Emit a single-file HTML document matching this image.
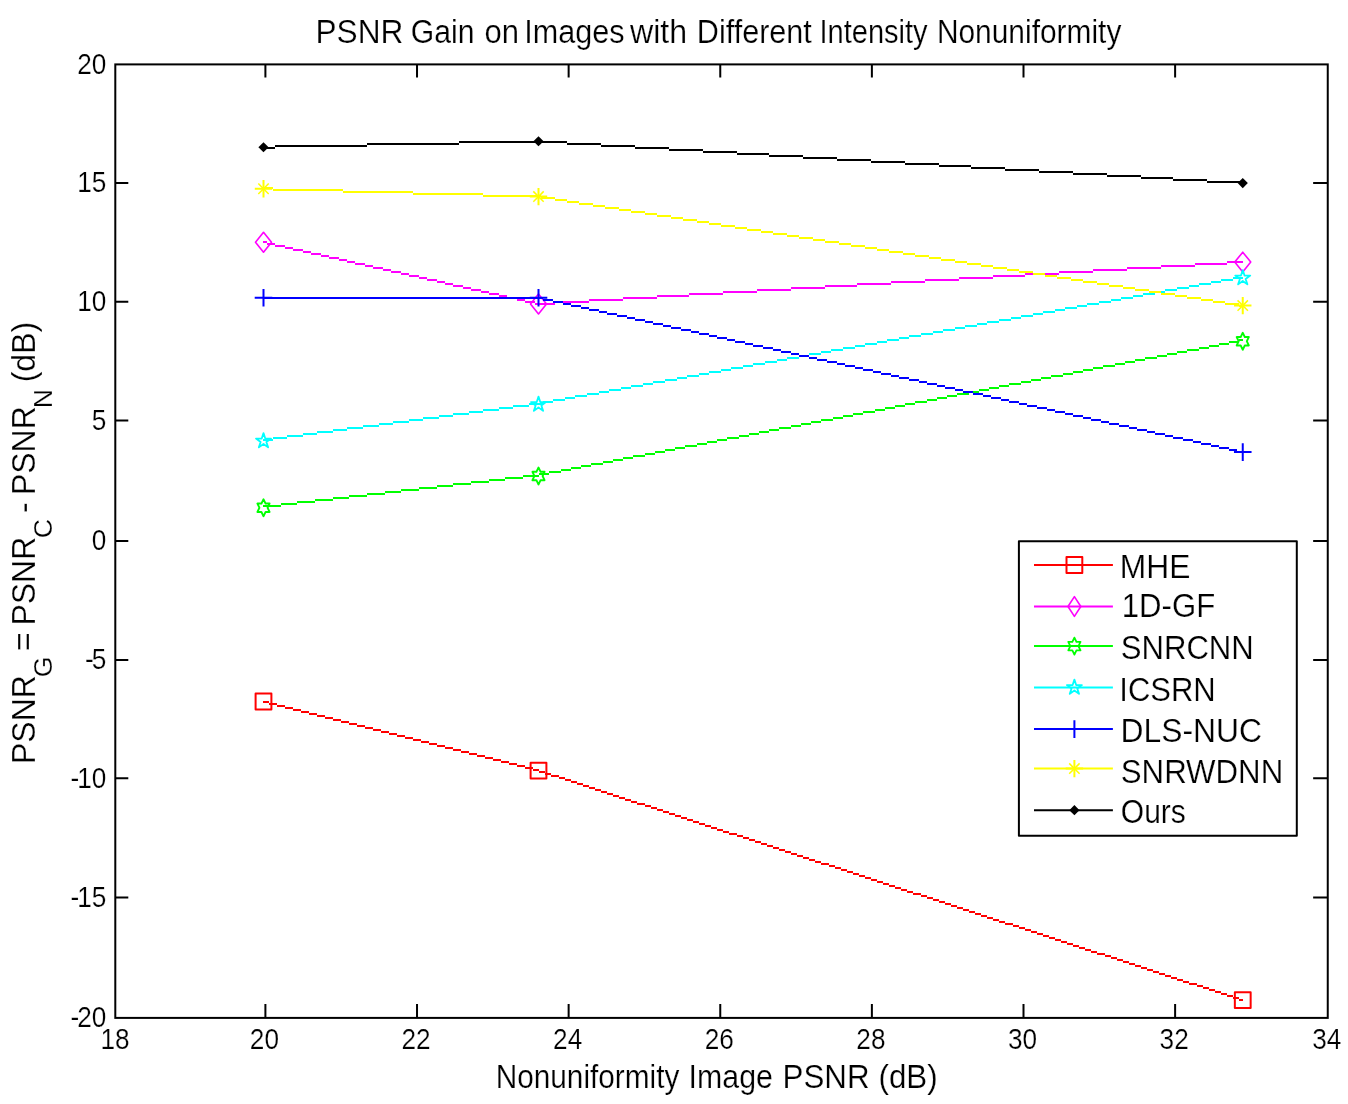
<!DOCTYPE html>
<html lang="en">
<head>
<meta charset="utf-8">
<title>PSNR Gain on Images with Different Intensity Nonuniformity</title>
<style>
html,body{margin:0;padding:0;background:#fff;}
body{width:1348px;height:1104px;overflow:hidden;}
svg{display:block;filter:blur(0.4px);}
text{font-family:"Liberation Sans",Arial,Helvetica,sans-serif;fill:#000;stroke:#fff;stroke-width:0.22px;}
.t32{font-size:32px;}
.t27{font-size:29.6px;}
.sub{font-size:26.7px;}
</style>
</head>
<body>
<svg width="1348" height="1104" viewBox="0 0 1348 1104">
<rect x="0" y="0" width="1348" height="1104" fill="#ffffff"/>
<g id="series" stroke-linejoin="round">
<g><path d="M263 702h6M269 704h8M277 706h8M285 708h8M293 710h8M301 712h8M309 714h8M317 716h8M325 718h8M333 720h8M341 722h8M349 724h8M357 726h8M365 728h8M373 730h8M381 732h8M389 734h8M397 736h8M405 738h8M413 740h8M421 742h8M429 744h8M437 746h8M445 748h8M453 750h8M461 752h8M469 754h8M477 756h8M485 758h8M493 760h8M501 762h8M509 764h8M517 766h8M525 768h8M533 770h6M537 770h2M539 772h6M545 774h6M551 776h8M559 778h6M565 780h6M571 782h6M577 784h6M583 786h6M589 788h6M595 790h6M601 792h6M607 794h6M613 796h6M619 798h6M625 800h6M631 802h6M637 804h8M645 806h6M651 808h6M657 810h6M663 812h6M669 814h6M675 816h6M681 818h6M687 820h6M693 822h6M699 824h6M705 826h6M711 828h6M717 830h6M723 832h6M729 834h8M737 836h6M743 838h6M749 840h6M755 842h6M761 844h6M767 846h6M773 848h6M779 850h6M785 852h6M791 854h6M797 856h6M803 858h6M809 860h6M815 862h6M821 864h8M829 866h6M835 868h6M841 870h6M847 872h6M853 874h6M859 876h6M865 878h6M871 880h6M877 882h6M883 884h6M889 886h6M895 888h6M901 890h6M907 892h6M913 894h8M921 896h6M927 898h6M933 900h6M939 902h6M945 904h6M951 906h6M957 908h6M963 910h6M969 912h6M975 914h6M981 916h6M987 918h6M993 920h6M999 922h6M1005 924h8M1013 926h6M1019 928h6M1025 930h6M1031 932h6M1037 934h6M1043 936h6M1049 938h6M1055 940h6M1061 942h6M1067 944h6M1073 946h6M1079 948h6M1085 950h6M1091 952h6M1097 954h8M1105 956h6M1111 958h6M1117 960h6M1123 962h6M1129 964h6M1135 966h6M1141 968h6M1147 970h6M1153 972h6M1159 974h6M1165 976h6M1171 978h6M1177 980h6M1183 982h6M1189 984h8M1197 986h6M1203 988h6M1209 990h6M1215 992h6M1221 994h6M1227 996h6M1233 998h6M1239 1000h4" fill="none" stroke="#ff0000" stroke-width="2" shape-rendering="crispEdges"/>
<rect x="255.6" y="693.6" width="15.8" height="15.8" fill="none" stroke="#ff0000" stroke-width="2"/>
<rect x="530.6" y="762.7" width="15.8" height="15.8" fill="none" stroke="#ff0000" stroke-width="2"/>
<rect x="1234.85" y="992.3" width="15.8" height="15.8" fill="none" stroke="#ff0000" stroke-width="2"/>
</g>
<g><path d="M263 242h4M267 244h8M275 246h10M285 248h8M293 250h10M303 252h8M311 254h10M321 256h8M329 258h10M339 260h8M347 262h8M355 264h10M365 266h8M373 268h10M383 270h8M391 272h10M401 274h8M409 276h10M419 278h8M427 280h10M437 282h8M445 284h8M453 286h10M463 288h8M471 290h10M481 292h8M489 294h10M499 296h8M507 298h10M517 300h8M525 302h10M535 304h4M537 304h18M555 302h34M589 300h34M623 298h34M657 296h32M689 294h34M723 292h34M757 290h34M791 288h34M825 286h32M857 284h34M891 282h34M925 280h34M959 278h34M993 276h32M1025 274h34M1059 272h34M1093 270h34M1127 268h34M1161 266h34M1195 264h32M1227 262h16" fill="none" stroke="#ff00ff" stroke-width="2" shape-rendering="crispEdges"/>
<path d="M263.5 232.35L271.5 242.25L263.5 252.15L255.5 242.25Z" fill="none" stroke="#ff00ff" stroke-width="1.6"/>
<path d="M538.5 294.1L546.5 304L538.5 313.9L530.5 304Z" fill="none" stroke="#ff00ff" stroke-width="1.6"/>
<path d="M1242.75 252.2L1250.75 262.1L1242.75 272L1234.75 262.1Z" fill="none" stroke="#ff00ff" stroke-width="1.6"/>
</g>
<g><path d="M263 506h18M281 504h16M297 502h18M315 500h18M333 498h16M349 496h18M367 494h18M385 492h16M401 490h18M419 488h18M437 486h16M453 484h18M471 482h18M489 480h16M505 478h18M523 476h16M537 476h2M539 474h10M549 472h12M561 470h10M571 468h10M581 466h10M591 464h12M603 462h10M613 460h10M623 458h10M633 456h12M645 454h10M655 452h10M665 450h10M675 448h10M685 446h12M697 444h10M707 442h10M717 440h10M727 438h12M739 436h10M749 434h10M759 432h10M769 430h10M779 428h12M791 426h10M801 424h10M811 422h10M821 420h12M833 418h10M843 416h10M853 414h10M863 412h12M875 410h10M885 408h10M895 406h10M905 404h10M915 402h12M927 400h10M937 398h10M947 396h10M957 394h12M969 392h10M979 390h10M989 388h10M999 386h10M1009 384h12M1021 382h10M1031 380h10M1041 378h10M1051 376h12M1063 374h10M1073 372h10M1083 370h10M1093 368h10M1103 366h12M1115 364h10M1125 362h10M1135 360h10M1145 358h12M1157 356h10M1167 354h10M1177 352h10M1187 350h12M1199 348h10M1209 346h10M1219 344h10M1229 342h10M1239 340h4" fill="none" stroke="#00ff00" stroke-width="2" shape-rendering="crispEdges"/>
<path d="M263.5 499.25L265.54 503.5L269.61 503.5L267.57 507.75L269.61 512L265.54 512L263.5 516.25L261.46 512L257.39 512L259.43 507.75L257.39 503.5L261.46 503.5Z" fill="none" stroke="#00ff00" stroke-width="1.8"/>
<path d="M538.5 467.5L540.54 471.75L544.61 471.75L542.57 476L544.61 480.25L540.54 480.25L538.5 484.5L536.46 480.25L532.39 480.25L534.43 476L532.39 471.75L536.46 471.75Z" fill="none" stroke="#00ff00" stroke-width="1.8"/>
<path d="M1242.75 332.75L1244.79 337L1248.86 337L1246.82 341.25L1248.86 345.5L1244.79 345.5L1242.75 349.75L1240.71 345.5L1236.64 345.5L1238.68 341.25L1236.64 337L1240.71 337Z" fill="none" stroke="#00ff00" stroke-width="1.8"/>
</g>
<g><path d="M263 440h10M273 438h14M287 436h16M303 434h14M317 432h16M333 430h14M347 428h16M363 426h16M379 424h14M393 422h16M409 420h14M423 418h16M439 416h14M453 414h16M469 412h14M483 410h16M499 408h14M513 406h16M529 404h10M537 404h6M543 402h10M553 400h12M565 398h10M575 396h12M587 394h12M599 392h10M609 390h12M621 388h10M631 386h12M643 384h10M653 382h12M665 380h12M677 378h10M687 376h12M699 374h10M709 372h12M721 370h10M731 368h12M743 366h10M753 364h12M765 362h12M777 360h10M787 358h12M799 356h10M809 354h12M821 352h10M831 350h12M843 348h12M855 346h10M865 344h12M877 342h10M887 340h12M899 338h10M909 336h12M921 334h12M933 332h10M943 330h12M955 328h10M965 326h12M977 324h10M987 322h12M999 320h12M1011 318h10M1021 316h12M1033 314h10M1043 312h12M1055 310h10M1065 308h12M1077 306h10M1087 304h12M1099 302h12M1111 300h10M1121 298h12M1133 296h10M1143 294h12M1155 292h10M1165 290h12M1177 288h12M1189 286h10M1199 284h12M1211 282h10M1221 280h12M1233 278h10" fill="none" stroke="#00ffff" stroke-width="2" shape-rendering="crispEdges"/>
<path d="M263.5 433.1L265.27 438.56L271.01 438.56L266.37 441.93L268.14 447.39L263.5 444.02L258.86 447.39L260.63 441.93L255.99 438.56L261.73 438.56Z" fill="none" stroke="#00ffff" stroke-width="1.8"/>
<path d="M538.5 396.6L540.27 402.06L546.01 402.06L541.37 405.43L543.14 410.89L538.5 407.52L533.86 410.89L535.63 405.43L530.99 402.06L536.73 402.06Z" fill="none" stroke="#00ffff" stroke-width="1.8"/>
<path d="M1242.75 270.1L1244.52 275.56L1250.26 275.56L1245.62 278.93L1247.39 284.39L1242.75 281.02L1238.11 284.39L1239.88 278.93L1235.24 275.56L1240.98 275.56Z" fill="none" stroke="#00ffff" stroke-width="1.8"/>
</g>
<g><path d="M263 298h276M537 298h6M543 300h10M553 302h10M563 304h8M571 306h10M581 308h8M589 310h10M599 312h8M607 314h10M617 316h10M627 318h8M635 320h10M645 322h8M653 324h10M663 326h8M671 328h10M681 330h10M691 332h8M699 334h10M709 336h8M717 338h10M727 340h8M735 342h10M745 344h8M753 346h10M763 348h10M773 350h8M781 352h10M791 354h8M799 356h10M809 358h8M817 360h10M827 362h10M837 364h8M845 366h10M855 368h8M863 370h10M873 372h8M881 374h10M891 376h8M899 378h10M909 380h10M919 382h8M927 384h10M937 386h8M945 388h10M955 390h8M963 392h10M973 394h10M983 396h8M991 398h10M1001 400h8M1009 402h10M1019 404h8M1027 406h10M1037 408h10M1047 410h8M1055 412h10M1065 414h8M1073 416h10M1083 418h8M1091 420h10M1101 422h8M1109 424h10M1119 426h10M1129 428h8M1137 430h10M1147 432h8M1155 434h10M1165 436h8M1173 438h10M1183 440h10M1193 442h8M1201 444h10M1211 446h8M1219 448h10M1229 450h8M1237 452h6" fill="none" stroke="#0000ff" stroke-width="2" shape-rendering="crispEdges"/>
<path d="M254.7 297.75H272.3M263.5 288.95V306.55" fill="none" stroke="#0000ff" stroke-width="2"/>
<path d="M529.7 297.8H547.3M538.5 289V306.6" fill="none" stroke="#0000ff" stroke-width="2"/>
<path d="M1233.95 452.1H1251.55M1242.75 443.3V460.9" fill="none" stroke="#0000ff" stroke-width="2"/>
</g>
<g><path d="M263 188h10M273 190h70M343 192h70M413 194h70M483 196h56M537 196h4M541 198h14M555 200h12M567 202h12M579 204h14M593 206h12M605 208h14M619 210h12M631 212h14M645 214h12M657 216h14M671 218h12M683 220h14M697 222h12M709 224h12M721 226h14M735 228h12M747 230h14M761 232h12M773 234h14M787 236h12M799 238h14M813 240h12M825 242h14M839 244h12M851 246h14M865 248h12M877 250h12M889 252h14M903 254h12M915 256h14M929 258h12M941 260h14M955 262h12M967 264h14M981 266h12M993 268h14M1007 270h12M1019 272h14M1033 274h12M1045 276h12M1057 278h14M1071 280h12M1083 282h14M1097 284h12M1109 286h14M1123 288h12M1135 290h14M1149 292h12M1161 294h14M1175 296h12M1187 298h14M1201 300h12M1213 302h12M1225 304h14M1239 306h4" fill="none" stroke="#ffff00" stroke-width="2" shape-rendering="crispEdges"/>
<path d="M254.8 188.75H272.2M263.5 180.05V197.45" fill="none" stroke="#ffff00" stroke-width="2"/><path d="M258.3 183.55L268.7 193.95M258.3 193.95L268.7 183.55" fill="none" stroke="#ffff00" stroke-width="1.5"/>
<path d="M529.8 196.6H547.2M538.5 187.9V205.3" fill="none" stroke="#ffff00" stroke-width="2"/><path d="M533.3 191.4L543.7 201.8M533.3 201.8L543.7 191.4" fill="none" stroke="#ffff00" stroke-width="1.5"/>
<path d="M1234.05 305.6H1251.45M1242.75 296.9V314.3" fill="none" stroke="#ffff00" stroke-width="2"/><path d="M1237.55 300.4L1247.95 310.8M1237.55 310.8L1247.95 300.4" fill="none" stroke="#ffff00" stroke-width="1.5"/>
</g>
<g><path d="M263 148h12M275 146h92M367 144h92M459 142h80M537 142h30M567 144h34M601 146h34M635 148h34M669 150h34M703 152h34M737 154h32M769 156h34M803 158h34M837 160h34M871 162h34M905 164h34M939 166h32M971 168h34M1005 170h34M1039 172h34M1073 174h34M1107 176h34M1141 178h32M1173 180h34M1207 182h34M1241 184h2" fill="none" stroke="#000000" stroke-width="2" shape-rendering="crispEdges"/>
<path d="M263.5 142.15L268.6 147.25L263.5 152.35L258.4 147.25Z" fill="#000000" stroke="none"/>
<path d="M538.5 136.15L543.6 141.25L538.5 146.35L533.4 141.25Z" fill="#000000" stroke="none"/>
<path d="M1242.75 178L1247.85 183.1L1242.75 188.2L1237.65 183.1Z" fill="#000000" stroke="none"/>
</g>
</g>
<g id="axes" stroke="#000" stroke-width="2" fill="none">
<rect x="115.3" y="64.4" width="1212.45" height="953.5"/>
<path d="M265.4 1017.9V1003.9M265.4 64.4V77.4M417.02 1017.9V1003.9M417.02 64.4V77.4M568.64 1017.9V1003.9M568.64 64.4V77.4M720.26 1017.9V1003.9M720.26 64.4V77.4M871.88 1017.9V1003.9M871.88 64.4V77.4M1023.5 1017.9V1003.9M1023.5 64.4V77.4M1175.12 1017.9V1003.9M1175.12 64.4V77.4M115.3 183.1H128.3M1327.75 183.1H1313.15M115.3 301.8H128.3M1327.75 301.8H1313.15M115.3 420.6H128.3M1327.75 420.6H1313.15M115.3 541H128.3M1327.75 541H1313.15M115.3 659.9H128.3M1327.75 659.9H1313.15M115.3 778.3H128.3M1327.75 778.3H1313.15M115.3 897.4H128.3M1327.75 897.4H1313.15"/>
</g>
<g id="xticks" class="t27" text-anchor="middle">
<text transform="translate(115 1048.8) scale(0.885 1)">18</text>
<text transform="translate(264.4 1048.8) scale(0.885 1)">20</text>
<text transform="translate(416.02 1048.8) scale(0.885 1)">22</text>
<text transform="translate(567.64 1048.8) scale(0.885 1)">24</text>
<text transform="translate(719.26 1048.8) scale(0.885 1)">26</text>
<text transform="translate(870.88 1048.8) scale(0.885 1)">28</text>
<text transform="translate(1022.5 1048.8) scale(0.885 1)">30</text>
<text transform="translate(1174.12 1048.8) scale(0.885 1)">32</text>
<text transform="translate(1326.7 1048.8) scale(0.885 1)">34</text>
</g>
<g id="yticks" class="t27" text-anchor="end">
<text transform="translate(106.4 73.6) scale(0.885 1)">20</text>
<text transform="translate(106.4 192.3) scale(0.885 1)">15</text>
<text transform="translate(106.4 311) scale(0.885 1)">10</text>
<text transform="translate(106.4 429.8) scale(0.885 1)">5</text>
<text transform="translate(106.4 550.2) scale(0.885 1)">0</text>
<text transform="translate(106.4 669.1) scale(0.885 1)">-<tspan dx="-2.2">5</tspan></text>
<text transform="translate(106.4 787.5) scale(0.885 1)">-<tspan dx="-2.2">10</tspan></text>
<text transform="translate(106.4 906.6) scale(0.885 1)">-<tspan dx="-2.2">15</tspan></text>
<text transform="translate(106.4 1027.1) scale(0.885 1)">-<tspan dx="-2.2">20</tspan></text>
</g>
<g id="title" class="t32">
<text transform="translate(315.52 43) scale(0.9884 1.065)">PSNR</text>
<text transform="translate(410.81 43) scale(0.9423 1.065)">Gain</text>
<text transform="translate(484.53 43) scale(0.9697 1.065)">on</text>
<text transform="translate(524.34 43) scale(0.9559 1.065)">Images</text>
<text transform="translate(630 43) scale(1.0045 1.065)">with</text>
<text transform="translate(696.84 43) scale(0.9559 1.065)">Different</text>
<text transform="translate(819.43 43) scale(0.9081 1.065)">Intensity</text>
<text transform="translate(936.88 43) scale(0.9349 1.065)">Nonuniformity</text>
</g>
<g id="xlabel" class="t32">
<text transform="translate(495.64 1087.7) scale(0.9311 1.065)">Nonuniformity</text>
<text transform="translate(688.6 1087.7) scale(0.9477 1.065)">Image</text>
<text transform="translate(782.54 1087.7) scale(0.9797 1.065)">PSNR</text>
<text transform="translate(878.52 1087.7) scale(0.9784 1.065)">(dB)</text>
</g>
<g id="ylabel" transform="rotate(-90)">
<text class="t32" transform="translate(-764 35.2) scale(1 1.065)">PSNR</text>
<text class="sub" transform="translate(-677.3 52.2)">G</text>
<text class="t32" transform="translate(-651 35.2) scale(1 1.065)">=</text>
<text class="t32" transform="translate(-625.6 35.2) scale(1 1.065)">PSNR</text>
<text class="sub" transform="translate(-538.2 52.2)">C</text>
<text class="t32" transform="translate(-513 35.2) scale(1 1.065)">-</text>
<text class="t32" transform="translate(-495.1 35.2) scale(1 1.065)">PSNR</text>
<text class="sub" transform="translate(-408.3 52.2)">N</text>
<text class="t32" transform="translate(-382.3 35.2) scale(1 1.065)">(dB)</text>
</g>
<g id="legend" stroke-linejoin="round">
<rect x="1018.9" y="541.3" width="277.9" height="294.5" fill="#fff" stroke="#000" stroke-width="2"/>
<path d="M1034 565H1112.9" stroke="#ff0000" stroke-width="2" fill="none"/>
<rect x="1066.5" y="557.1" width="15.8" height="15.8" fill="none" stroke="#ff0000" stroke-width="2"/>
<g class="t32"><text transform="translate(1119.76 577.7) scale(0.9926 1.065)">MHE</text></g>
<path d="M1034 606.5H1112.9" stroke="#ff00ff" stroke-width="2" fill="none"/>
<path d="M1074.4 596.6L1080.8 606.5L1074.4 616.4L1068 606.5Z" fill="none" stroke="#ff00ff" stroke-width="1.6"/>
<g class="t32"><text transform="translate(1121.8 617.3) scale(0.9731 1.065)">1D-GF</text></g>
<path d="M1034 646.1H1112.9" stroke="#00ff00" stroke-width="2" fill="none"/>
<path d="M1074.4 637.6L1076.44 641.85L1080.51 641.85L1078.47 646.1L1080.51 650.35L1076.44 650.35L1074.4 654.6L1072.36 650.35L1068.29 650.35L1070.33 646.1L1068.29 641.85L1072.36 641.85Z" fill="none" stroke="#00ff00" stroke-width="1.8"/>
<g class="t32"><text transform="translate(1120.78 658.9) scale(0.9720 1.065)">SNRCNN</text></g>
<path d="M1034 687.5H1112.9" stroke="#00ffff" stroke-width="2" fill="none"/>
<path d="M1074.4 679.6L1076.17 685.06L1081.91 685.06L1077.27 688.43L1079.04 693.89L1074.4 690.52L1069.76 693.89L1071.53 688.43L1066.89 685.06L1072.63 685.06Z" fill="none" stroke="#00ffff" stroke-width="1.8"/>
<g class="t32"><text transform="translate(1119.31 700.5) scale(0.9688 1.065)">ICSRN</text></g>
<path d="M1034 729.1H1112.9" stroke="#0000ff" stroke-width="2" fill="none"/>
<path d="M1065.6 729.1H1083.2M1074.4 720.3V737.9" fill="none" stroke="#0000ff" stroke-width="2"/>
<g class="t32"><text transform="translate(1120.51 741.6) scale(0.9946 1.065)">DLS-NUC</text></g>
<path d="M1034 768.6H1112.9" stroke="#ffff00" stroke-width="2" fill="none"/>
<path d="M1065.7 768.6H1083.1M1074.4 759.9V777.3" fill="none" stroke="#ffff00" stroke-width="2"/><path d="M1069.2 763.4L1079.6 773.8M1069.2 773.8L1079.6 763.4" fill="none" stroke="#ffff00" stroke-width="1.5"/>
<g class="t32"><text transform="translate(1120.77 783) scale(0.9756 1.065)">SNRWDNN</text></g>
<path d="M1034 810.2H1112.9" stroke="#000000" stroke-width="2" fill="none"/>
<path d="M1074.4 805.1L1079.5 810.2L1074.4 815.3L1069.3 810.2Z" fill="#000000" stroke="none"/>
<g class="t32"><text transform="translate(1120.81 822.5) scale(0.9375 1.065)">Ours</text></g>
</g>
</svg>
</body>
</html>
